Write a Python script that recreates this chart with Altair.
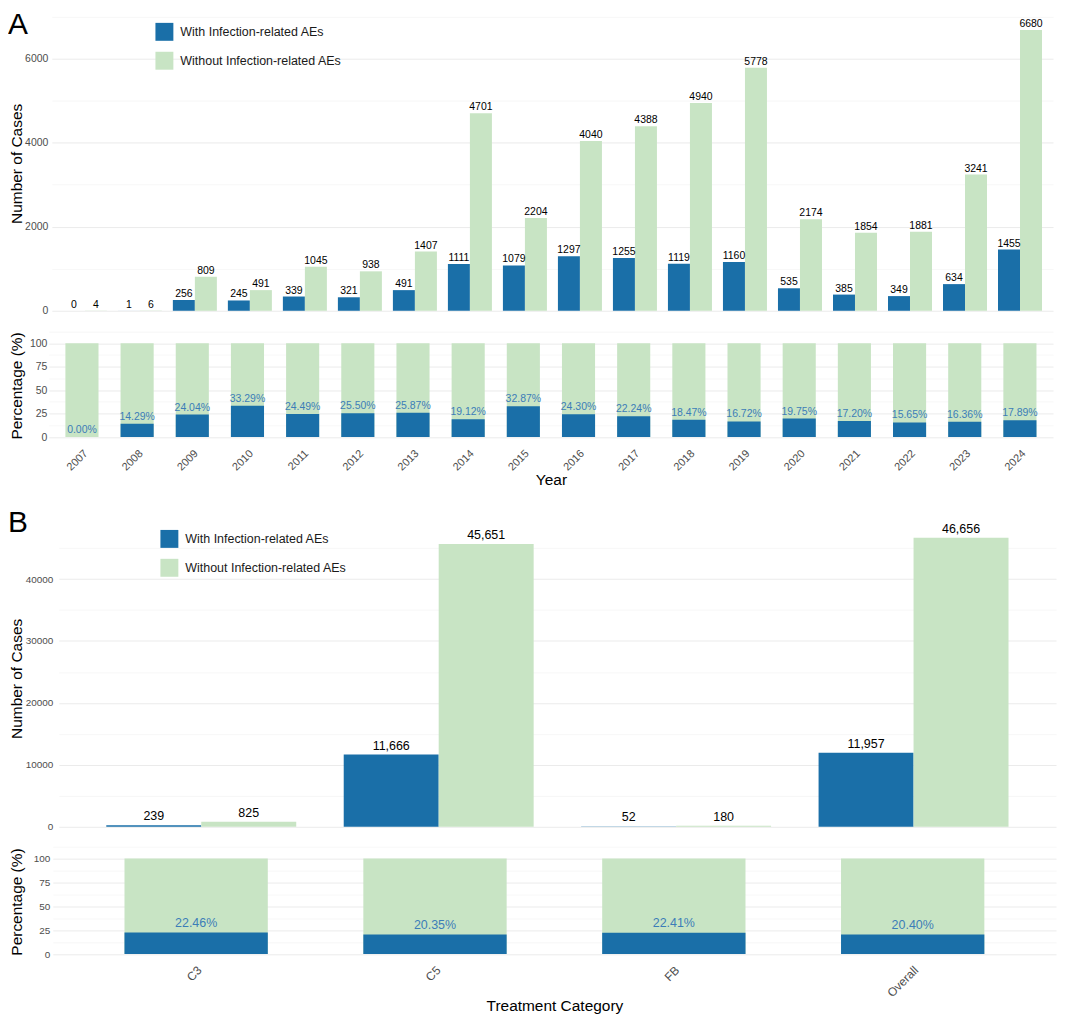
import altair as alt
import pandas as pd

FONT = "Liberation Sans"
BLUE = "#1A6FA8"
GREEN = "#C8E4C4"
PCT_BLUE = "#3C7DB8"
GRID_MAJOR = "#EBEBEB"
GRID_MINOR = "#F4F4F4"
TICK = "#4D4D4D"

# ---------------- data ----------------
years = ["2007", "2008", "2009", "2010", "2011", "2012", "2013", "2014", "2015",
         "2016", "2017", "2018", "2019", "2020", "2021", "2022", "2023", "2024"]
with_counts = [0, 1, 256, 245, 339, 321, 491, 1111, 1079, 1297, 1255, 1119, 1160, 535, 385, 349, 634, 1455]
without_counts = [4, 6, 809, 491, 1045, 938, 1407, 4701, 2204, 4040, 4388, 4940, 5778, 2174, 1854, 1881, 3241, 6680]
with_pct = [0.00, 14.29, 24.04, 33.29, 24.49, 25.50, 25.87, 19.12, 32.87, 24.30, 22.24, 18.47,
            16.72, 19.75, 17.20, 15.65, 16.36, 17.89]

categories = ["C3", "C5", "FB", "Overall"]
cat_with = [239, 11666, 52, 11957]
cat_without = [825, 45651, 180, 46656]
cat_pct = [22.46, 20.35, 22.41, 20.40]

group_names = ["With Infection-related AEs", "Without Infection-related AEs"]

year_counts = pd.DataFrame({
    "Year": years * 2,
    "Group": [group_names[0]] * len(years) + [group_names[1]] * len(years),
    "Count": with_counts + without_counts,
})
year_pct = pd.DataFrame({"Year": years, "Pct": with_pct, "Total": [100] * len(years),
                         "Label": [f"{v:.2f}%" for v in with_pct]})

cat_counts = pd.DataFrame({
    "Category": categories * 2,
    "Group": [group_names[0]] * len(categories) + [group_names[1]] * len(categories),
    "Count": cat_with + cat_without,
})
cat_pct_df = pd.DataFrame({"Category": categories, "Pct": cat_pct, "Total": [100] * len(categories),
                           "Label": [f"{v:.2f}%" for v in cat_pct]})


# ---------------- helpers ----------------
def y_axis(title, values, major, label_size, label_pad, height, max_label=None):
    cond = f"datum.value % {major} === 0"
    if max_label is not None:
        cond_label = cond + f" && datum.value <= {max_label}"
    else:
        cond_label = cond
    return alt.Axis(
        title=title, values=values, format="d",
        labelExpr=f"{cond_label} ? datum.label : ''",
        ticks=False, domain=False, grid=True,
        gridColor={"condition": {"test": cond, "value": GRID_MAJOR}, "value": GRID_MINOR},
        gridWidth={"condition": {"test": cond, "value": 1}, "value": 0.7},
        labelColor=TICK, labelFont=FONT, labelFontSize=label_size, labelPadding=label_pad,
        titleFont=FONT, titleFontSize=15.5, titleFontWeight="normal", titleColor="black",
        titleX=-36, titleY=height / 2, titleAngle=270, titleBaseline="middle", titleAlign="center",
    )


def x_axis(title, label_size):
    return alt.Axis(
        title=title, labelAngle=-45, labelAlign="right", labelBaseline="top", labelPadding=5,
        ticks=False, domain=False, grid=False, labelOverlap=False,
        labelColor=TICK, labelFont=FONT, labelFontSize=label_size,
        titleFont=FONT, titleFontSize=15.5, titleFontWeight="normal", titleColor="black",
        titlePadding=0,
    )


def color_enc(lx, ly):
    return alt.Color(
        "Group:N", sort=group_names,
        scale=alt.Scale(domain=group_names, range=[BLUE, GREEN]),
        legend=alt.Legend(
            title=None, orient="none", legendX=lx, legendY=ly, padding=0,
            symbolType="square", symbolSize=324, symbolStrokeWidth=0, symbolOpacity=1,
            labelFont=FONT, labelFontSize=12.5, labelColor="#1A1A1A", labelOffset=7,
            rowPadding=11, labelLimit=400,
        ),
    )


def letter(txt, dy):
    return alt.Chart(pd.DataFrame({"Letter": [txt]})).mark_text(
        align="left", baseline="top", font=FONT, fontSize=30, color="black"
    ).encode(text="Letter:N", x=alt.value(-45), y=alt.value(dy))


xoff = alt.XOffset("Group:N", sort=group_names, scale=alt.Scale(paddingInner=0, paddingOuter=0))

W_A = 1004
W_B = 1007
H_A_TOP = 296
H_A_BOT = 114
H_B_TOP = 298
H_B_BOT = 116
PCT_DOMAIN = [-5.5, 115.5]
pct_values = [0, 12.5, 25, 37.5, 50, 62.5, 75, 87.5, 100, 112.5]

# ---------------- Panel A top ----------------
xA_top = alt.X("Year:N", sort=years, axis=None,
               scale=alt.Scale(range=[-1, W_A], paddingInner=0.2, paddingOuter=0.2))
yA_top = alt.Y("Count:Q", scale=alt.Scale(domain=[0, 7014], nice=False, zero=False),
               axis=y_axis("Number of Cases", [0, 1000, 2000, 3000, 4000, 5000, 6000, 7000],
                           2000, 10.5, 5, H_A_TOP))
baseA = alt.Chart(year_counts).encode(x=xA_top, xOffset=xoff, y=yA_top)
A_top = alt.layer(
    baseA.mark_bar().encode(color=color_enc(103, 7)),
    baseA.mark_text(baseline="bottom", dy=-1, font=FONT, fontSize=10.5, color="black").encode(
        text=alt.Text("Count:Q", format="d")),
    letter("A", -6),
).properties(width=W_A, height=H_A_TOP)

# ---------------- Panel A bottom ----------------
xA_bot = alt.X("Year:N", sort=years, axis=x_axis("Year", 11),
               scale=alt.Scale(range=[-4, W_A], paddingInner=0.4, paddingOuter=0.3))
pct_scale = alt.Scale(domain=PCT_DOMAIN, nice=False, zero=False)
pA_axis = y_axis("Percentage (%)", pct_values, 25, 10.5, 6, H_A_BOT, max_label=100)
A_bot = alt.layer(
    alt.Chart(year_pct).mark_bar(color=GREEN).encode(
        x=xA_bot, y=alt.Y("Total:Q", scale=pct_scale, axis=pA_axis), y2=alt.Y2Datum(0)),
    alt.Chart(year_pct).mark_bar(color=BLUE).encode(
        x=xA_bot, y=alt.Y("Pct:Q", scale=pct_scale, axis=pA_axis), y2=alt.Y2Datum(0)),
    alt.Chart(year_pct).mark_text(baseline="middle", dy=-7, font=FONT, fontSize=10.5, color=PCT_BLUE).encode(
        x=xA_bot, y=alt.Y("Pct:Q", scale=pct_scale, axis=pA_axis), text="Label:N"),
).properties(width=W_A, height=H_A_BOT)

# ---------------- Panel B top ----------------
xB_top = alt.X("Category:N", sort=categories, axis=None,
               scale=alt.Scale(range=[6, W_B], paddingInner=0.2, paddingOuter=0.2))
yB_top = alt.Y("Count:Q", scale=alt.Scale(domain=[0, 47934], nice=False, zero=False),
               axis=y_axis("Number of Cases",
                           [0, 5000, 10000, 15000, 20000, 25000, 30000, 35000, 40000, 45000],
                           10000, 10, 0, H_B_TOP))
baseB = alt.Chart(cat_counts).encode(x=xB_top, xOffset=xoff, y=yB_top)
B_top = alt.layer(
    baseB.mark_bar().encode(color=color_enc(108, 0)),
    baseB.mark_text(baseline="bottom", dy=-2, font=FONT, fontSize=12.5, color="black").encode(
        text=alt.Text("Count:Q", format=",")),
    letter("B", -22),
).properties(width=W_B, height=H_B_TOP)

# ---------------- Panel B bottom ----------------
xB_bot = alt.X("Category:N", sort=categories, axis=x_axis("Treatment Category", 12),
               scale=alt.Scale(range=[0, W_B], paddingInner=0.4, paddingOuter=0.3))
pB_axis = y_axis("Percentage (%)", pct_values, 25, 10, 3, H_B_BOT, max_label=100)
B_bot = alt.layer(
    alt.Chart(cat_pct_df).mark_bar(color=GREEN).encode(
        x=xB_bot, y=alt.Y("Total:Q", scale=pct_scale, axis=pB_axis), y2=alt.Y2Datum(0)),
    alt.Chart(cat_pct_df).mark_bar(color=BLUE).encode(
        x=xB_bot, y=alt.Y("Pct:Q", scale=pct_scale, axis=pB_axis), y2=alt.Y2Datum(0)),
    alt.Chart(cat_pct_df).mark_text(baseline="middle", dy=-10, font=FONT, fontSize=12.5, color=PCT_BLUE).encode(
        x=xB_bot, y=alt.Y("Pct:Q", scale=pct_scale, axis=pB_axis), text="Label:N"),
).properties(width=W_B, height=H_B_BOT)

res = dict(x="independent", y="independent", color="independent", xOffset="independent")
panelA = alt.vconcat(A_top, A_bot, spacing=12).resolve_scale(**res)
panelB = alt.vconcat(B_top, B_bot, spacing=12).resolve_scale(**res)

chart = (
    alt.vconcat(panelA, panelB, spacing=20)
    .resolve_scale(**res)
    .properties(padding={"left": 0, "top": 0, "right": 0, "bottom": 0})
    .configure(font=FONT, background="white")
    .configure_view(stroke=None)
)

chart.save("out.html", embed_options={"renderer": "svg", "actions": False})
